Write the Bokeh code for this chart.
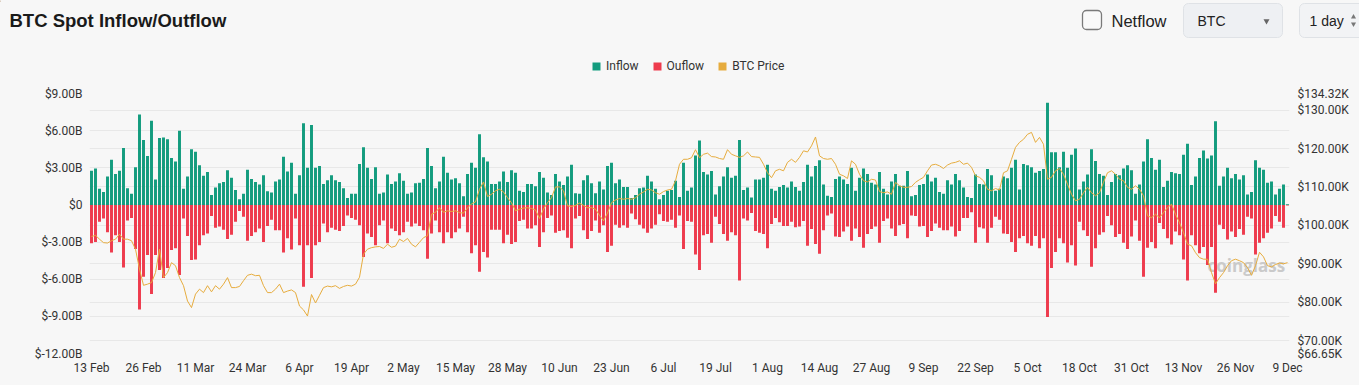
from bokeh.plotting import figure
from bokeh.models import (Range1d, LinearAxis, FixedTicker, Grid, Legend, LegendItem,
                          Label, BoxAnnotation, ColumnDataSource)
from bokeh.embed import file_html
from bokeh.resources import INLINE

# ---------------- data ----------------
tick_labels = ["13 Feb", "26 Feb", "11 Mar", "24 Mar", "6 Apr", "19 Apr", "2 May", "15 May",
               "28 May", "10 Jun", "23 Jun", "6 Jul", "19 Jul", "1 Aug", "14 Aug", "27 Aug",
               "9 Sep", "22 Sep", "5 Oct", "18 Oct", "31 Oct", "13 Nov", "26 Nov", "9 Dec"]

inflow = [
    2.76, 2.95, 1.3, 1.05, 2.3, 3.65, 2.5, 2.76, 4.6, 1.35, 0.9, 3.05, 7.3, 5.25, 3.95, 6.8, 2.05, 5.4, 5.45, 5.3,
    3.8, 3.5, 6.0, 1.3, 2.3, 4.5, 4.3, 3.2, 2.35, 2.65, 0.8, 1.4, 1.75, 1.85, 2.8, 2.2, 1.2, 0.45, 0.9, 2.85,
    2.1, 1.85, 1.65, 2.4, 1.1, 1.0, 1.9, 2.05, 3.9, 2.7,
    3.4, 0.9, 2.4, 6.6, 3.0, 6.45, 3.0, 3.15, 1.7, 2.0, 2.4, 2.0, 1.85, 1.35, 0.55, 0.9, 0.9, 3.3, 4.65, 3.0,
    2.1, 3.05, 0.9, 1.0, 2.45, 1.7, 1.9, 2.55, 1.95, 0.9, 1.0, 1.75, 1.8, 2.1, 4.6, 3.15, 1.35, 1.9, 3.9, 2.6,
    2.05, 2.15, 1.75, 0.7, 2.5, 3.4, 3.0, 5.7, 3.85, 3.5,
    1.7, 1.7, 1.9, 2.7, 1.85, 2.8, 2.6, 1.15, 1.05, 1.7, 1.7, 1.5, 2.65, 2.2, 1.0, 0.8, 2.5, 1.9, 1.6, 2.3,
    3.25, 0.95, 0.9, 2.0, 2.4, 1.75, 0.95, 1.9, 1.25, 3.15, 3.4, 1.75, 2.05, 1.45, 1.45, 0.55, 0.8, 1.35, 1.4, 2.35,
    1.9, 1.3, 0.45, 0.8, 1.15, 1.2, 1.95, 0.65, 3.4, 1.15,
    1.4, 4.0, 5.2, 2.65, 2.45, 2.75, 0.85, 1.5, 2.3, 3.05, 2.2, 2.35, 5.25, 1.2, 1.4, 0.6, 2.05, 2.05, 2.2, 3.25,
    1.3, 1.15, 1.45, 1.6, 1.4, 1.9, 1.45, 1.15, 1.85, 3.25, 2.3, 3.15, 3.6, 1.65, 0.75, 0.65, 2.1, 2.3, 2.05, 1.7,
    3.0, 1.15, 2.2, 2.95, 2.5, 1.8, 1.65, 2.65, 1.3, 0.85,
    1.9, 2.5, 1.55, 1.55, 2.75, 0.7, 0.8, 1.6, 1.7, 2.45, 1.9, 2.2, 1.05, 0.9, 2.0, 1.65, 2.5, 2.0, 1.4, 0.65,
    0.55, 2.45, 1.7, 1.65, 2.9, 2.4, 1.15, 1.3, 2.3, 2.15, 3.0, 3.65, 1.25, 3.3, 3.2, 3.05, 2.6, 2.75, 2.9, 8.25,
    4.25, 4.25, 3.05, 4.3, 3.0, 4.05, 4.55, 1.25, 1.9, 2.45,
    4.5, 3.55, 2.5, 2.35, 0.8, 1.85, 2.5, 2.4, 2.95, 3.2, 2.8, 0.9, 1.65, 3.5, 5.3, 3.8, 2.85, 3.65, 1.45, 1.95,
    2.65, 2.55, 2.5, 4.05, 4.95, 1.6, 2.3, 3.8, 4.4, 3.75, 4.0, 6.75, 1.55, 2.3, 3.0, 2.15, 2.5, 2.05, 2.4, 0.85,
    1.05, 3.6, 3.0, 2.85, 1.8, 1.9, 0.85, 1.3, 1.65, 0.05,
]

outflow = [
    -3.1, -3.0, -1.35, -1.1, -2.2, -3.85, -2.45, -3.0, -5.05, -1.25, -1.05, -3.55, -8.45, -5.8, -4.05, -7.2, -4.05, -5.25, -5.9, -5.1,
    -3.65, -3.5, -5.65, -1.1, -2.5, -4.45, -4.4, -3.25, -2.45, -2.3, -0.9, -1.85, -1.75, -2.0, -2.75, -2.4, -1.35, -0.5, -0.95, -2.9,
    -2.5, -2.2, -1.9, -3.0, -1.7, -1.2, -2.05, -2.05, -3.85, -2.7,
    -3.6, -1.1, -3.25, -6.6, -3.25, -5.9, -3.25, -3.0, -1.5, -2.2, -1.85, -2.0, -2.1, -1.7, -0.85, -1.05, -1.2, -1.65, -4.2, -2.3,
    -2.6, -3.25, -1.65, -1.25, -3.1, -1.9, -2.1, -2.45, -2.2, -1.35, -1.75, -1.5, -1.7, -2.05, -4.35, -2.3, -1.25, -2.2, -3.1, -2.2,
    -2.7, -2.2, -1.9, -0.95, -2.2, -3.9, -3.25, -5.4, -3.8, -4.25,
    -2.0, -2.0, -2.0, -3.1, -2.4, -3.15, -3.0, -1.3, -1.2, -1.9, -1.9, -1.65, -3.4, -2.2, -1.05, -0.85, -2.25, -2.1, -2.05, -2.65,
    -3.5, -1.1, -0.9, -2.05, -2.75, -2.1, -1.25, -2.25, -1.65, -3.8, -3.3, -1.6, -1.85, -1.65, -1.85, -0.7, -1.15, -1.6, -1.9, -2.25,
    -1.9, -1.6, -0.75, -1.3, -1.35, -1.2, -1.85, -0.85, -3.55, -1.3,
    -1.35, -4.0, -5.25, -2.45, -2.35, -3.05, -0.95, -1.55, -2.35, -2.9, -2.2, -2.45, -6.1, -1.1, -1.25, -0.65, -2.1, -2.25, -2.35, -3.5,
    -1.55, -1.05, -1.4, -1.7, -1.7, -1.35, -1.8, -1.75, -1.3, -3.3, -1.95, -3.15, -3.95, -2.05, -0.85, -0.7, -2.55, -2.6, -2.15, -1.75,
    -2.9, -1.9, -2.6, -3.45, -2.35, -1.95, -1.75, -3.05, -1.3, -1.1,
    -1.9, -2.5, -1.65, -1.55, -2.7, -0.85, -0.9, -1.75, -1.7, -2.6, -2.1, -1.5, -1.85, -2.05, -2.05, -1.75, -2.55, -2.1, -1.05, -1.05,
    -0.6, -3.05, -1.8, -1.9, -3.05, -1.85, -0.95, -1.2, -2.3, -2.35, -3.0, -3.8, -2.7, -2.5, -3.1, -3.3, -2.5, -3.5, -2.7, -9.05,
    -5.1, -3.8, -2.7, -3.1, -4.65, -3.25, -4.9, -1.35, -2.05, -2.5,
    -5.0, -3.5, -2.4, -2.2, -0.9, -1.65, -2.6, -2.35, -3.05, -3.55, -2.55, -1.25, -2.9, -5.8, -3.45, -3.0, -3.5, -1.45, -1.95, -2.7,
    -3.2, -2.15, -2.45, -4.4, -6.1, -2.45, -3.25, -3.9, -3.4, -4.85, -3.4, -7.1, -1.6, -1.95, -2.8, -2.15, -2.6, -1.95, -2.4, -0.95,
    -1.1, -4.0, -3.05, -2.7, -2.25, -1.9, -0.9, -1.35, -1.85, -0.05,
]

btc_price = [
    97.1, 97.4, 96.4, 95.5, 95.4, 96.0, 96.4, 97.7, 96.4, 96.4, 96.0, 93.8, 88.6, 84.4, 84.7, 85.1, 87.7, 93.8, 86.4, 87.7,
    90.3, 89.5, 86.4, 84.3, 80.3, 78.6, 82.1, 83.4, 82.5, 84.3, 82.7, 84.3, 83.4, 84.7, 86.4, 83.8, 83.8, 84.1, 85.6, 87.0,
    87.3, 86.9, 87.0, 84.3, 82.5, 82.5, 83.4, 84.7, 82.5, 82.9,
    83.2, 82.5, 79.0, 78.0, 76.4, 82.0, 79.8, 81.8, 83.8, 84.2, 84.0, 84.3, 83.6, 84.1, 84.4, 84.2, 84.7, 86.5, 92.5, 93.8,
    94.2, 94.4, 94.5, 94.0, 95.1, 94.3, 94.6, 96.4, 95.8, 96.6, 95.1, 94.4, 95.6, 96.8, 97.3, 102.9, 103.4, 104.6, 103.4, 103.8,
    103.6, 103.8, 103.3, 103.2, 104.5, 105.6, 106.1, 109.4, 111.3, 107.5,
    108.1, 109.0, 109.4, 108.7, 107.2, 105.9, 103.8, 104.2, 104.5, 104.6, 104.4, 104.0, 101.8, 104.2, 105.9, 107.2, 110.0, 110.0, 109.0, 105.1,
    104.9, 105.2, 105.8, 105.2, 104.6, 104.6, 104.2, 102.6, 101.2, 103.2, 105.9, 106.6, 107.0, 106.8, 107.0, 106.8, 107.2, 108.1, 108.7, 109.4,
    109.2, 108.5, 108.1, 108.8, 109.2, 109.4, 111.6, 115.9, 117.2, 117.2,
    117.6, 119.7, 117.6, 118.5, 118.8, 117.9, 117.8, 117.4, 117.2, 119.7, 118.5, 118.1, 117.7, 118.1, 119.1, 117.9, 117.8, 117.7, 115.9, 113.7,
    112.4, 114.2, 114.6, 114.2, 116.4, 117.2, 116.4, 117.7, 119.4, 119.1, 120.7, 123.0, 118.1, 117.4, 117.2, 117.4, 115.9, 113.3, 112.9, 112.2,
    116.8, 115.9, 113.3, 111.6, 111.3, 112.0, 111.8, 108.8, 108.5, 108.7,
    108.1, 111.2, 110.3, 109.9, 109.9, 110.1, 111.2, 111.9, 112.5, 114.2, 115.7, 115.9, 115.5, 114.8, 115.7, 116.2, 116.4, 116.8, 115.9, 116.2,
    115.1, 112.9, 112.5, 111.6, 109.4, 109.0, 109.6, 109.2, 113.7, 114.2, 117.2, 120.3, 121.6, 122.4, 123.7, 124.2, 121.6, 122.9, 121.1, 112.0,
    112.5, 114.2, 114.8, 113.3, 110.7, 108.1, 106.4, 106.8, 108.5, 109.9,
    108.5, 107.7, 108.5, 111.2, 113.7, 114.2, 113.3, 112.0, 111.6, 109.9, 109.4, 110.3, 109.4, 107.7, 102.5, 102.0, 102.9, 102.0, 103.3, 104.6,
    105.5, 102.9, 100.7, 98.1, 95.1, 94.7, 92.9, 91.6, 91.2, 91.2, 87.7, 84.8, 86.4, 87.7, 89.5, 90.8, 91.2, 90.8, 90.3, 89.0,
    87.0, 89.5, 93.0, 91.8, 89.5, 89.2, 89.8, 90.2, 90.0, 90.3,
]

flow_ticks = [-12, -9, -6, -3, 0, 3, 6, 9]
flow_tick_labels = ["$-12.00B", "$-9.00B", "$-6.00B", "$-3.00B", "$0", "$3.00B", "$6.00B", "$9.00B"]
price_ticks = [66.65, 70, 80, 90, 100, 110, 120, 130, 134.32]
price_tick_labels = ["$66.65K", "$70.00K", "$80.00K", "$90.00K", "$100.00K", "$110.00K",
                     "$120.00K", "$130.00K", "$134.32K"]

# ---------------- styling ----------------
BG = "#f7f7f7"
GREEN = "#139c7e"
RED = "#ee3b4d"
GOLD = "#e6ac3e"
GRID = "#e8e8e8"
TXT = "#333333"
FONT = "Roboto"
UI_FONT = "Liberation Sans"
W = 1359
HEAD_H = 80

# ---------------- header: title, controls, legend (own root, own frame) ----------------
head = figure(width=W, height=HEAD_H, output_backend="svg", toolbar_location=None,
              x_range=Range1d(0, W), y_range=Range1d(HEAD_H, 0),
              min_border=0, min_border_left=0, min_border_right=0, min_border_top=0, min_border_bottom=0,
              background_fill_color=BG, border_fill_color=BG, outline_line_color=None)
head.axis.visible = False
head.grid.visible = False


def hlabel(x, y, text, size, color="#222222", style="normal", font=UI_FONT):
    head.add_layout(Label(x=x, y=y, text=text, text_font=font, text_font_size=size,
                          text_color=color, text_font_style=style, text_baseline="middle"))


def hbox(l, r, t, b, fill, line, lw=1.0, rad=5):
    head.add_layout(BoxAnnotation(left=l, right=r, top=t, bottom=b, fill_color=fill, fill_alpha=1,
                                  line_color=line, line_alpha=1, line_width=lw, border_radius=rad,
                                  level="underlay"))


hlabel(9, 19.5, "BTC Spot Inflow/Outflow", "18.5px", "#1a1a1a", "bold")
hbox(1082, 1101, 10, 29, "#f9f9f9", "#7a7a7a", 1.3, 4)
hlabel(1111, 20, "Netflow", "16.5px")
hbox(1183, 1282, 3, 37, "#eef0f3", "#dfe2e6", 1.0, 5)
hlabel(1197, 20, "BTC", "14px")
head.scatter(x=[1266], y=[20.5], marker="inverted_triangle", size=6, fill_color="#666666",
             line_color=None, level="overlay")
hbox(1299, 1380, 3, 37, "#f2f3f5", "#dfe2e6", 1.0, 5)
hlabel(1309, 20, "1 day", "14px")
head.scatter(x=[1353, 1353], y=[16.5, 23.5], marker=["triangle", "inverted_triangle"], size=5,
             fill_color="#777777", line_color=None, level="overlay")

# legend proxies (one point each, placed outside the visible header range)
lg_in = head.vbar(x=[-100], top=[1], width=1, fill_color=GREEN, line_color=None)
lg_out = head.vbar(x=[-100], top=[1], width=1, fill_color=RED, line_color=None)
lg_px = head.vbar(x=[-100], top=[1], width=1, fill_color=GOLD, line_color=None)
legend = Legend(items=[LegendItem(label="Inflow", renderers=[lg_in]),
                       LegendItem(label="Ouflow", renderers=[lg_out]),
                       LegendItem(label="BTC Price", renderers=[lg_px])],
                orientation="horizontal", location=(591, 7),
                glyph_width=10, glyph_height=10, label_height=14, label_width=10,
                label_standoff=5, spacing=13, padding=0, margin=0,
                label_text_font=FONT, label_text_font_size="12px", label_text_color=TXT,
                background_fill_alpha=0, border_line_color=None)
head.add_layout(legend)

# ---------------- main chart ----------------
n = len(inflow)
day = list(range(n))
src = ColumnDataSource(dict(x=day, inflow=inflow, outflow=outflow, price=btc_price))

p = figure(width=W, height=300, output_backend="svg", toolbar_location=None,
           x_range=Range1d(-0.5, n - 0.5), y_range=Range1d(flow_ticks[0], flow_ticks[-1]),
           min_border_left=89, min_border_right=70, min_border_top=13, min_border_bottom=27,
           background_fill_color=BG, border_fill_color=BG, outline_line_color=None)
p.extra_y_ranges = {"price": Range1d(price_ticks[0], price_ticks[-1])}

p.xaxis.ticker = FixedTicker(ticks=list(range(0, n, 13)))
p.xaxis.major_label_overrides = {i * 13: lab for i, lab in enumerate(tick_labels)}
p.yaxis.ticker = FixedTicker(ticks=flow_ticks)
p.yaxis.major_label_overrides = dict(zip(flow_ticks, flow_tick_labels))

right = LinearAxis(y_range_name="price", ticker=FixedTicker(ticks=price_ticks),
                   major_label_overrides=dict(zip(price_ticks, price_tick_labels)))
p.add_layout(right, "right")

for ax in [p.xaxis[0], p.yaxis[0], right]:
    ax.axis_line_color = None
    ax.major_tick_line_color = None
    ax.minor_tick_line_color = None
    ax.major_tick_out = 0
    ax.major_tick_in = 0
    ax.minor_tick_out = 0
    ax.major_label_text_font = FONT
    ax.major_label_text_font_size = "12px"
    ax.major_label_text_color = TXT
p.xaxis.major_label_standoff = 7
p.yaxis.major_label_standoff = 7
right.major_label_standoff = 8

p.xgrid.visible = False
p.ygrid.ticker = FixedTicker(ticks=flow_ticks)
p.ygrid.grid_line_color = GRID
p.add_layout(Grid(dimension=1, ticker=FixedTicker(ticks=price_ticks), y_range_name="price",
                  grid_line_color=GRID))

p.vbar(x="x", top="inflow", bottom=0, width=0.74, source=src, fill_color=GREEN, line_color=None)
p.vbar(x="x", top=0, bottom="outflow", width=0.74, source=src, fill_color=RED, line_color=None)
p.line(x="x", y="price", source=src, line_color=GOLD, line_width=1, y_range_name="price")

# watermark (frame-relative screen units)
p.add_layout(Label(x=1118, y=88, x_units="screen", y_units="screen", text="coinglass",
                   text_font="Open Sans", text_font_size="17px", text_font_style="bold",
                   text_color="#cacaca", text_baseline="middle", level="underlay"))

# two separate roots stacked: no frame alignment between header and chart
html = file_html([head, p], INLINE)
css = ("<style>html,body{background:%s;margin:0;padding:0;}"
       "body>div>*{vertical-align:top;}</style></head>" % BG)
html = html.replace("</head>", css, 1)
open("out.html", "w").write(html)
